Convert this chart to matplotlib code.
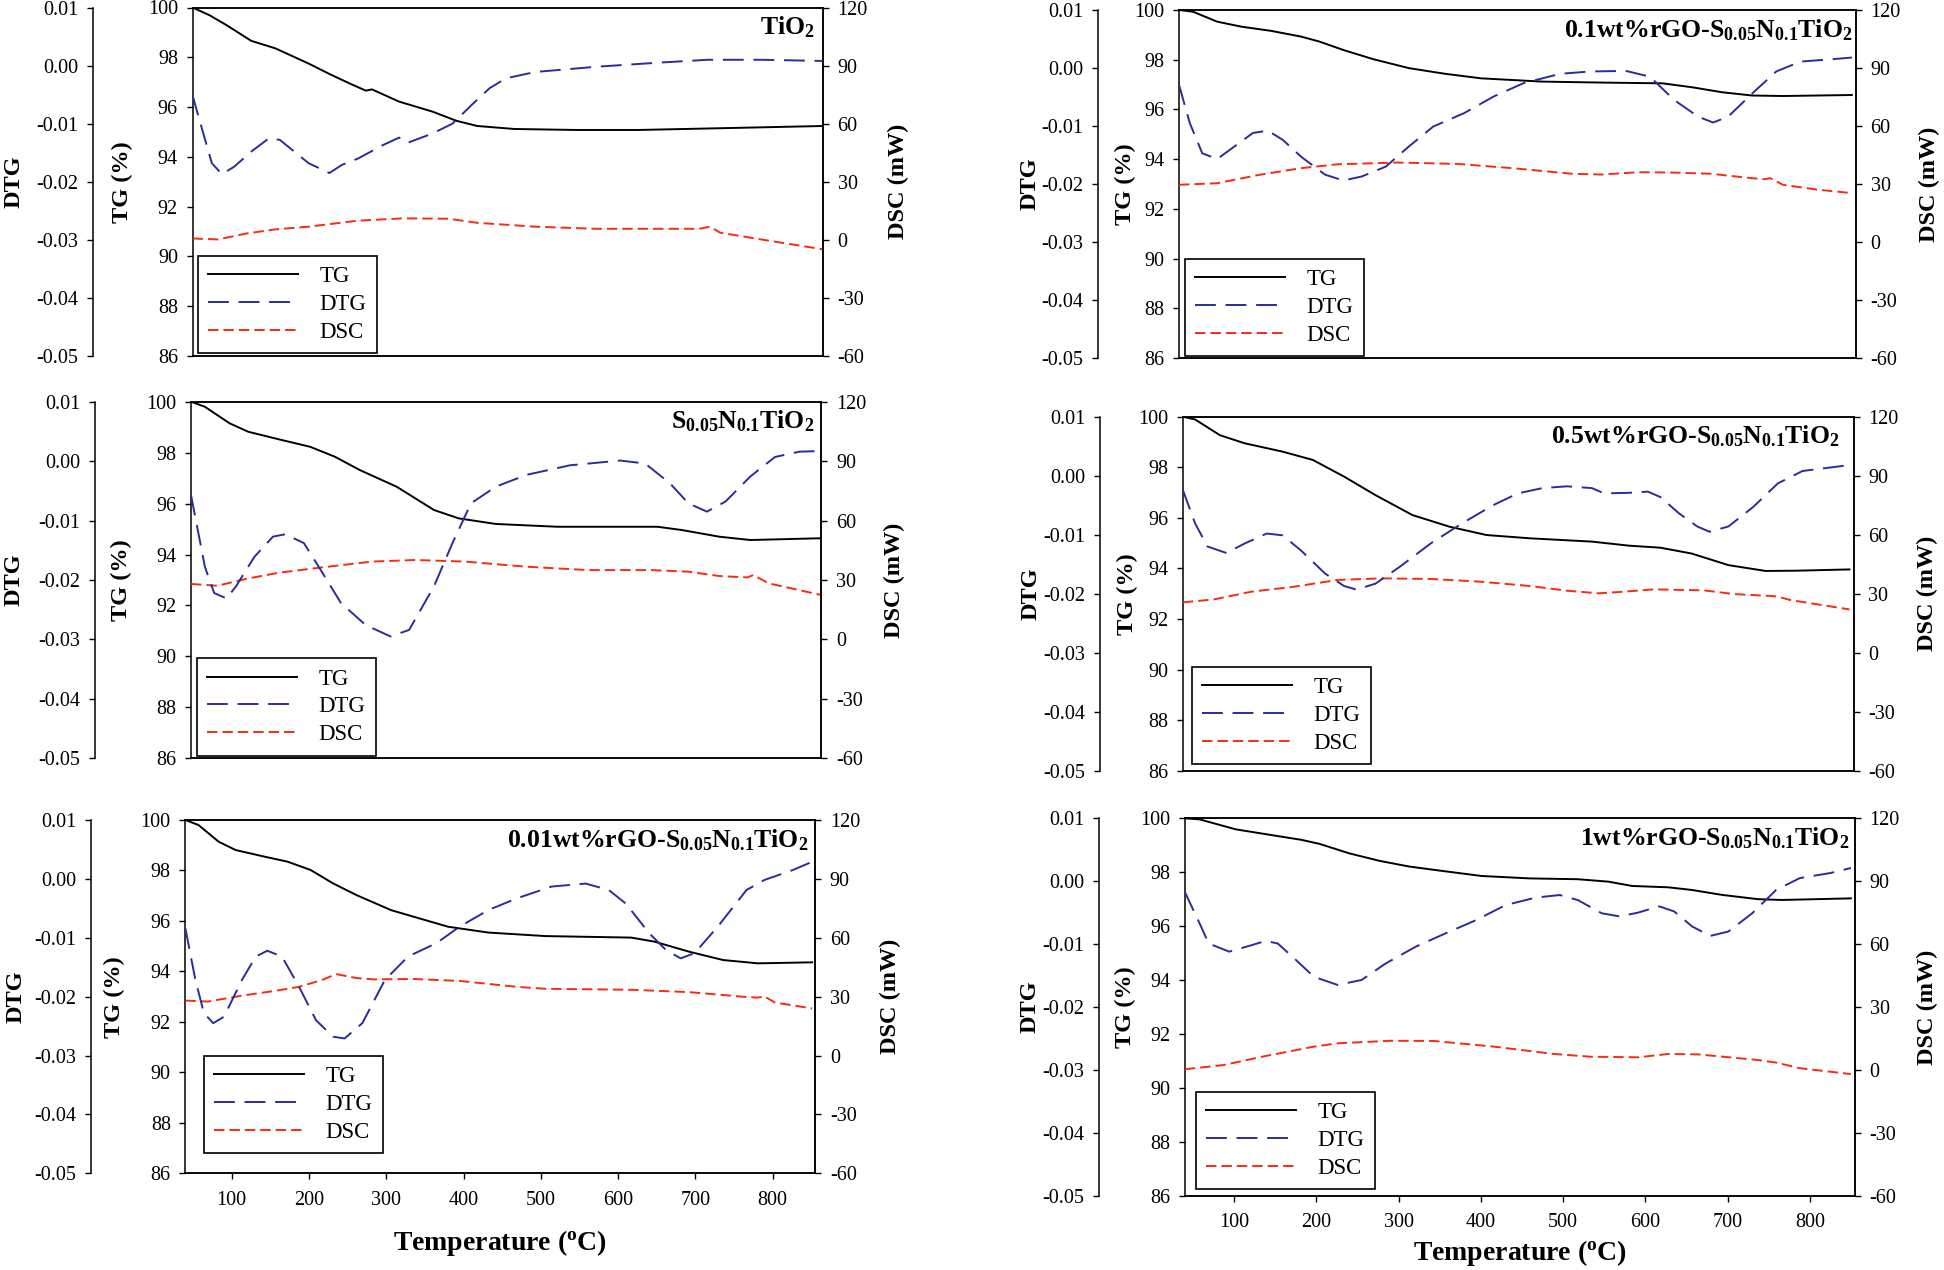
import matplotlib
matplotlib.use('Agg')
import matplotlib.pyplot as plt

plt.rcParams.update({
    'font.family': ['Liberation Serif', 'DejaVu Serif'],
    'mathtext.fontset': 'custom',
    'mathtext.rm': 'Liberation Serif',
    'mathtext.bf': 'Liberation Serif:bold',
    'mathtext.it': 'Liberation Serif:italic',
    'axes.unicode_minus': False,
    'lines.scale_dashes': False,
})

# ---------------- data ----------------
# TiO2
T_TG_1 = [40, 62, 84, 116, 147, 190, 217, 243, 264, 272, 307, 350, 381, 408, 456, 536, 616, 722, 855]
TG_1 = [100, 99.69, 99.29, 98.66, 98.36, 97.75, 97.33, 96.95, 96.66, 96.71, 96.22, 95.82, 95.45, 95.24, 95.12, 95.08, 95.08, 95.15, 95.24]
T_DTG_1 = [40, 54, 65, 78, 94, 116, 139, 153, 190, 217, 233, 254, 286, 307, 318, 350, 376, 403, 424, 445, 483, 562, 642, 706, 775, 855]
DTG_1 = [-0.0051, -0.0117, -0.0168, -0.0187, -0.0174, -0.0148, -0.0125, -0.0128, -0.0168, -0.0185, -0.0171, -0.0160, -0.0137, -0.0124, -0.0133, -0.0117, -0.0100, -0.0065, -0.0039, -0.0022, -0.0011, -0.0002, 0.0005, 0.0010, 0.0010, 0.0008]
T_DSC_1 = [40, 73, 110, 147, 190, 254, 312, 371, 408, 483, 562, 695, 709, 722, 775, 855]
DSC_1 = [0.7, 0.2, 3.3, 5.4, 6.8, 9.9, 11.1, 10.9, 8.8, 6.8, 5.7, 5.7, 6.8, 3.7, 0.2, -4.9]

# S0.05N0.1TiO2
T_TG_2 = [40, 58, 90, 114, 154, 194, 226, 258, 306, 354, 386, 434, 514, 643, 675, 723, 763, 803, 855]
TG_2 = [100, 99.80, 99.15, 98.82, 98.52, 98.23, 97.84, 97.32, 96.66, 95.75, 95.42, 95.20, 95.09, 95.09, 94.96, 94.70, 94.57, 94.60, 94.64]
T_DTG_2 = [40, 58, 70, 86, 98, 122, 146, 162, 186, 210, 234, 266, 298, 322, 354, 378, 402, 434, 474, 530, 595, 627, 659, 683, 707, 731, 763, 795, 827, 855]
DTG_2 = [-0.0057, -0.0178, -0.0222, -0.0231, -0.0211, -0.0161, -0.0127, -0.0123, -0.0138, -0.0188, -0.0239, -0.0276, -0.0295, -0.0284, -0.0211, -0.0138, -0.0071, -0.0043, -0.0023, -0.0007, 0.0001, -0.0004, -0.0037, -0.0071, -0.0085, -0.0068, -0.0026, 0.0007, 0.0016, 0.0017]
T_DSC_2 = [40, 74, 114, 154, 210, 274, 330, 394, 474, 554, 635, 683, 723, 759, 767, 787, 855]
DSC_2 = [28.0, 27.1, 30.8, 33.7, 36.4, 39.3, 40.1, 39.3, 36.7, 35.0, 35.0, 34.2, 32.0, 31.3, 32.5, 28.3, 22.4]

# 0.01wt%rGO-S0.05N0.1TiO2
T_TG_3 = [40, 57, 83, 105, 142, 172, 202, 231, 261, 306, 335, 380, 432, 506, 617, 647, 692, 736, 781, 851]
TG_3 = [100, 99.80, 99.14, 98.81, 98.55, 98.35, 98.02, 97.49, 97.03, 96.43, 96.17, 95.77, 95.54, 95.40, 95.34, 95.18, 94.78, 94.45, 94.32, 94.36]
T_DTG_3 = [40, 53, 64, 76, 90, 113, 131, 146, 165, 187, 209, 231, 246, 269, 298, 328, 365, 395, 432, 469, 514, 558, 588, 610, 640, 662, 681, 699, 729, 766, 789, 826, 851]
DTG_3 = [-0.0084, -0.0172, -0.0228, -0.0245, -0.0234, -0.0172, -0.0132, -0.0122, -0.0132, -0.0183, -0.0240, -0.0268, -0.0271, -0.0245, -0.0172, -0.0132, -0.0109, -0.0081, -0.0053, -0.0033, -0.0013, -0.0008, -0.0019, -0.0042, -0.0092, -0.0121, -0.0135, -0.0126, -0.0081, -0.0019, -0.0002, 0.0015, 0.0029]
T_DSC_3 = [40, 69, 113, 157, 187, 217, 235, 261, 283, 335, 395, 469, 506, 617, 692, 766, 781, 789, 803, 851]
DSC_3 = [28.0, 27.5, 30.5, 33.0, 35.0, 38.5, 41.5, 39.5, 38.8, 39.0, 38.0, 35.0, 34.0, 33.5, 32.3, 29.8, 29.5, 30.2, 27.0, 24.0]

# 0.1wt%rGO-S0.05N0.1TiO2
T_TG_4 = [40, 57, 86, 115, 151, 187, 209, 238, 274, 317, 361, 404, 477, 549, 622, 658, 694, 730, 767, 850]
TG_4 = [100, 99.93, 99.53, 99.33, 99.16, 98.93, 98.73, 98.39, 98.02, 97.66, 97.43, 97.25, 97.12, 97.08, 97.05, 96.89, 96.69, 96.56, 96.54, 96.58]
T_DTG_4 = [40, 53, 68, 86, 107, 129, 147, 165, 187, 216, 238, 260, 289, 317, 346, 383, 419, 455, 499, 535, 578, 607, 636, 665, 683, 701, 730, 759, 788, 825, 850]
DTG_4 = [-0.0029, -0.0095, -0.0147, -0.0157, -0.0135, -0.0112, -0.0108, -0.0124, -0.0153, -0.0184, -0.0194, -0.0187, -0.0170, -0.0135, -0.0101, -0.0078, -0.0049, -0.0026, -0.0010, -0.0006, -0.0005, -0.0015, -0.0055, -0.0084, -0.0094, -0.0084, -0.0044, -0.0006, 0.0011, 0.0015, 0.0018]
T_DSC_4 = [40, 86, 136, 187, 231, 303, 375, 441, 513, 549, 593, 636, 680, 730, 745, 752, 767, 810, 850]
DSC_4 = [29.6, 30.4, 34.7, 38.2, 40.2, 41.1, 40.4, 38.2, 35.3, 34.9, 36.1, 35.9, 35.3, 33.0, 32.5, 33.0, 29.6, 27.0, 25.3]

# 0.5wt%rGO-S0.05N0.1TiO2
T_TG_5 = [40, 55, 85, 115, 161, 198, 236, 274, 319, 364, 409, 462, 537, 582, 620, 658, 703, 748, 786, 850]
TG_5 = [100, 99.89, 99.27, 98.95, 98.62, 98.29, 97.63, 96.90, 96.11, 95.65, 95.32, 95.19, 95.06, 94.90, 94.82, 94.59, 94.13, 93.90, 93.91, 93.96]
T_DTG_5 = [40, 55, 70, 93, 115, 142, 161, 183, 213, 236, 251, 274, 304, 341, 379, 417, 447, 477, 507, 537, 552, 582, 605, 620, 643, 665, 680, 703, 733, 763, 793, 850]
DTG_5 = [-0.0024, -0.0081, -0.0120, -0.0131, -0.0115, -0.0098, -0.0101, -0.0126, -0.0166, -0.0187, -0.0193, -0.0183, -0.0154, -0.0115, -0.0081, -0.0050, -0.0030, -0.0021, -0.0018, -0.0021, -0.0030, -0.0029, -0.0027, -0.0036, -0.0064, -0.0086, -0.0095, -0.0086, -0.0053, -0.0013, 0.0008, 0.0018]
T_DSC_5 = [40, 78, 123, 176, 228, 281, 341, 402, 462, 507, 545, 575, 612, 673, 710, 756, 763, 778, 850]
DSC_5 = [25.6, 27.1, 31.0, 33.6, 37.0, 37.8, 37.5, 36.1, 33.9, 31.5, 30.2, 31.0, 32.2, 31.7, 29.8, 28.8, 28.5, 26.8, 22.0]

# 1wt%rGO-S0.05N0.1TiO2
T_TG_6 = [40, 58, 102, 145, 182, 204, 240, 277, 313, 350, 401, 460, 518, 555, 584, 628, 657, 693, 737, 766, 850]
TG_6 = [100, 99.96, 99.59, 99.38, 99.20, 99.05, 98.70, 98.42, 98.21, 98.06, 97.86, 97.77, 97.74, 97.65, 97.49, 97.44, 97.34, 97.16, 97.00, 96.97, 97.03]
T_DTG_6 = [40, 58, 69, 94, 123, 138, 153, 175, 197, 226, 255, 284, 321, 357, 394, 430, 467, 496, 518, 547, 569, 591, 617, 635, 657, 679, 701, 730, 759, 788, 825, 850]
DTG_6 = [-0.0017, -0.0067, -0.0099, -0.0112, -0.0101, -0.0095, -0.0099, -0.0125, -0.0152, -0.0165, -0.0157, -0.0131, -0.0104, -0.0083, -0.0062, -0.0038, -0.0026, -0.0022, -0.0030, -0.0051, -0.0056, -0.0050, -0.0040, -0.0048, -0.0072, -0.0087, -0.0080, -0.0051, -0.0014, 0.0005, 0.0013, 0.0021]
T_DSC_6 = [40, 87, 138, 197, 226, 291, 343, 416, 489, 533, 591, 628, 664, 708, 737, 759, 788, 850]
DSC_6 = [0.3, 2.3, 6.6, 11.1, 12.7, 13.9, 13.8, 11.1, 7.6, 6.3, 6.0, 7.6, 7.4, 5.8, 4.7, 3.5, 0.8, -2.0]

TITLES = [
    r"TiO$_\mathbf{2}$",
    r"S$_\mathbf{0.05}$N$_\mathbf{0.1}$TiO$_\mathbf{2}$",
    r"0.01wt%rGO-S$_\mathbf{0.05}$N$_\mathbf{0.1}$TiO$_\mathbf{2}$",
    r"0.1wt%rGO-S$_\mathbf{0.05}$N$_\mathbf{0.1}$TiO$_\mathbf{2}$",
    r"0.5wt%rGO-S$_\mathbf{0.05}$N$_\mathbf{0.1}$TiO$_\mathbf{2}$",
    r"1wt%rGO-S$_\mathbf{0.05}$N$_\mathbf{0.1}$TiO$_\mathbf{2}$",
]
SERIES_NAMES = ["TG", "DTG", "DSC"]
TG_TICKS = [86, 88, 90, 92, 94, 96, 98, 100]
DTG_TICKS = [-0.05, -0.04, -0.03, -0.02, -0.01, 0.00, 0.01]
DSC_TICKS = [-60, -30, 0, 30, 60, 90, 120]
X_TICKS = [100, 200, 300, 400, 500, 600, 700, 800]

# ---------------- layout ----------------
W, H = 1944, 1270
fig = plt.figure(figsize=(W / 100, H / 100), dpi=100)

# (left, top, right, bottom, dtg_spine_x, dtg_label_x, tg_label_x, dsc_label_x, title_right, legend_left, legend_bottom, xticks)
layout = [
    (192.5, 7.5, 823, 356, 93, 14, 122, 898, 815, 198, 353, False),
    (191, 401.7, 821.4, 758.3, 95, 14, 121, 894, 814, 197, 755.7, False),
    (185.4, 820, 815.2, 1173.3, 91, 16, 114, 890, 808, 204, 1153, True),
    (1179, 10, 1856, 358, 1098, 1030, 1125, 1929, 1853, 1185, 356, False),
    (1182.8, 416.7, 1853.6, 770.7, 1100, 1031, 1127, 1927, 1840, 1192, 764, False),
    (1184.8, 818.3, 1855, 1195.7, 1099, 1030, 1125, 1927, 1849, 1196, 1189, True),
]

data = [
    (T_TG_1, TG_1, T_DTG_1, DTG_1, T_DSC_1, DSC_1),
    (T_TG_2, TG_2, T_DTG_2, DTG_2, T_DSC_2, DSC_2),
    (T_TG_3, TG_3, T_DTG_3, DTG_3, T_DSC_3, DSC_3),
    (T_TG_4, TG_4, T_DTG_4, DTG_4, T_DSC_4, DSC_4),
    (T_TG_5, TG_5, T_DTG_5, DTG_5, T_DSC_5, DSC_5),
    (T_TG_6, TG_6, T_DTG_6, DTG_6, T_DSC_6, DSC_6),
]

C_TG = '#000000'
C_DTG = '#2b2b9c'
C_DSC = '#fa2a10'
TICK_FS = 14.5
LABEL_FS = 17.5
LEG_FS = 16.5
TITLE_FS = 18.5

for i in range(6):
    (l, t, r, b, dtgx, dtglx, tglx, dsclx, tr, legl, legb, xt) = layout[i]
    ttg, tg, tdtg, dtg, tdsc, dsc = data[i]
    ax = fig.add_axes([l / W, 1 - b / H, (r - l) / W, (b - t) / H])
    ax_dsc = ax.twinx()
    ax_dtg = ax.twinx()

    lw = 1.4
    h1, = ax.plot(ttg, tg, color=C_TG, lw=lw, solid_joinstyle='round')
    h3, = ax_dsc.plot(tdsc, dsc, color=C_DSC, lw=lw, dashes=(7.5, 3.6))
    h2, = ax_dtg.plot(tdtg, dtg, color=C_DTG, lw=lw, dashes=(15, 7))

    for a in (ax, ax_dsc, ax_dtg):
        a.set_xlim(40, 855)
        for s in a.spines.values():
            s.set_linewidth(1.1)
    ax.set_ylim(86, 100)
    ax_dsc.set_ylim(-60, 120)
    ax_dtg.set_ylim(-0.05, 0.01)

    ax.set_yticks(TG_TICKS)
    ax.set_yticklabels([str(v) for v in TG_TICKS])
    ax_dsc.set_yticks(DSC_TICKS)
    ax_dsc.set_yticklabels([str(v) for v in DSC_TICKS])
    ax_dtg.set_yticks(DTG_TICKS)
    ax_dtg.set_yticklabels(["%.2f" % v for v in DTG_TICKS])

    ax_dtg.yaxis.set_ticks_position('left')
    ax_dtg.yaxis.set_label_position('left')
    ax_dtg.spines['left'].set_visible(True)
    ax_dtg.spines['left'].set_position(('outward', (l - dtgx) * 0.72))
    for s in ('right', 'top', 'bottom'):
        ax_dtg.spines[s].set_visible(False)
    ax_dsc.spines['left'].set_visible(False)

    for a in (ax, ax_dsc, ax_dtg):
        a.tick_params(axis='y', direction='out', length=4.5, width=1.0,
                      labelsize=TICK_FS, pad=6)
    ax_dsc.tick_params(axis='x', which='both', bottom=False, top=False,
                       labelbottom=False)
    ax_dtg.tick_params(axis='x', which='both', bottom=False, top=False,
                       labelbottom=False)
    if xt:
        ax.set_xticks(X_TICKS)
        ax.set_xticklabels([str(v) for v in X_TICKS])
        ax.tick_params(axis='x', direction='out', length=4.5, width=1.0,
                       labelsize=TICK_FS, pad=8, top=False)
    else:
        ax.tick_params(axis='x', bottom=False, top=False, labelbottom=False)

    # axis labels
    yc = 1 - (t + b) / 2 / H
    fig.text(dtglx / W, yc, "DTG", rotation=90, ha='center', va='center',
             fontsize=LABEL_FS, fontweight='bold')
    fig.text(tglx / W, yc, "TG (%)", rotation=90, ha='center', va='center',
             fontsize=LABEL_FS, fontweight='bold')
    fig.text(dsclx / W, yc, "DSC (mW)", rotation=90, ha='center', va='center',
             fontsize=LABEL_FS, fontweight='bold')

    # panel title
    fig.text(tr / W, 1 - (t + 7) / H, TITLES[i], ha='right', va='top',
             fontsize=TITLE_FS, fontweight='bold')

    leg = ax_dtg.legend([h1, h2, h3], SERIES_NAMES, loc='lower left',
                        bbox_to_anchor=(legl / W, 1 - legb / H),
                        bbox_transform=fig.transFigure, borderaxespad=0,
                        fontsize=LEG_FS, frameon=True, fancybox=False,
                        edgecolor='black', framealpha=1, handlelength=3.9,
                        handletextpad=0.95, labelspacing=0.3, borderpad=0.45)
    leg.get_frame().set_linewidth(1.2)

# x axis labels
fig.text(500 / W, 1 - 1243 / H, r"Temperature ($^\mathbf{o}$C)", ha='center',
         va='center', fontsize=20, fontweight='bold')
fig.text(1520 / W, 1 - 1253 / H, r"Temperature ($^\mathbf{o}$C)", ha='center',
         va='center', fontsize=20, fontweight='bold')

fig.savefig('out.png', dpi=100)
